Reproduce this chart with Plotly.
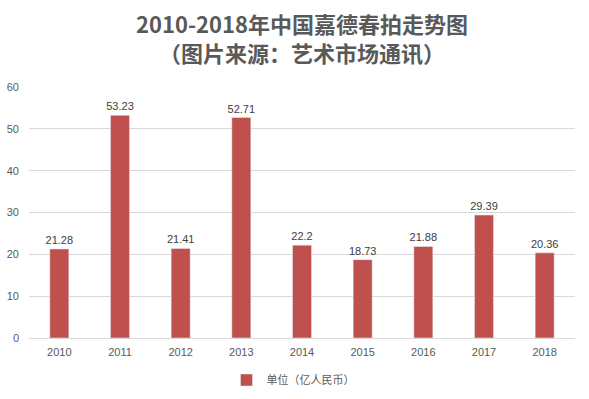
import plotly.graph_objects as go

years = ["2010", "2011", "2012", "2013", "2014", "2015", "2016", "2017", "2018"]
values = [21.28, 53.23, 21.41, 52.71, 22.2, 18.73, 21.88, 29.39, 20.36]
labels = ["21.28", "53.23", "21.41", "52.71", "22.2", "18.73", "21.88", "29.39", "20.36"]
series_name = "单位（亿人民币）"
title_line1 = "2010-2018年中国嘉德春拍走势图"
title_line2 = "（图片来源：艺术市场通讯）"

W, H = 589, 399
L, R, T, B = 29, 14, 87, 61
plot_h = H - T - B
plot_w = W - L - R
def py(px):
    return (H - B - px) / plot_h

fig = go.Figure()
fig.add_trace(go.Bar(
    x=years, y=values, name=series_name,
    marker=dict(color="#C0504D"),
    text=labels, textposition="outside", constraintext="none",
    textfont=dict(size=11, color="#404040", family="Liberation Sans, Noto Sans CJK SC"),
    cliponaxis=False,
    showlegend=True,
))

title_font = dict(size=22, color="#595959", family="Noto Sans CJK SC")
fig.add_annotation(text="<b>" + title_line1 + "</b>", xref="paper", yref="paper",
                   x=0.5, y=py(23), xanchor="center", yanchor="middle",
                   showarrow=False, font=title_font, borderpad=0)
fig.add_annotation(text="<b>" + title_line2 + "</b>", xref="paper", yref="paper",
                   x=0.5, y=py(52), xanchor="center", yanchor="middle",
                   showarrow=False, font=title_font, borderpad=0)

fig.update_layout(
    width=W, height=H,
    paper_bgcolor="white", plot_bgcolor="white",
    margin=dict(l=L, r=R, t=T, b=B, autoexpand=False),
    bargap=0.687,
    font=dict(family="Liberation Sans, Noto Sans CJK SC", size=11, color="#595959"),
    xaxis=dict(
        showgrid=False, showline=True, linecolor="#D9D9D9", linewidth=1,
        ticks="", tickfont=dict(size=11, color="#595959"), ticklabelstandoff=4,
        automargin=False,
    ),
    yaxis=dict(
        range=[0, 60], dtick=10, showgrid=True, gridcolor="#D9D9D9", gridwidth=1,
        zeroline=False, showline=False, ticks="",
        tickfont=dict(size=11, color="#595959"), ticklabelstandoff=9,
        automargin=False,
    ),
    legend=dict(
        orientation="h", x=0.5 - 9 / plot_w, xanchor="center", yref="paper",
        y=py(380), yanchor="middle",
        font=dict(size=11, color="#595959", family="Noto Sans CJK SC"),
        itemwidth=30,
    ),
)

fig.write_html("out.html", post_script="document.body.style.margin='0';",
               config={"displayModeBar": False})
